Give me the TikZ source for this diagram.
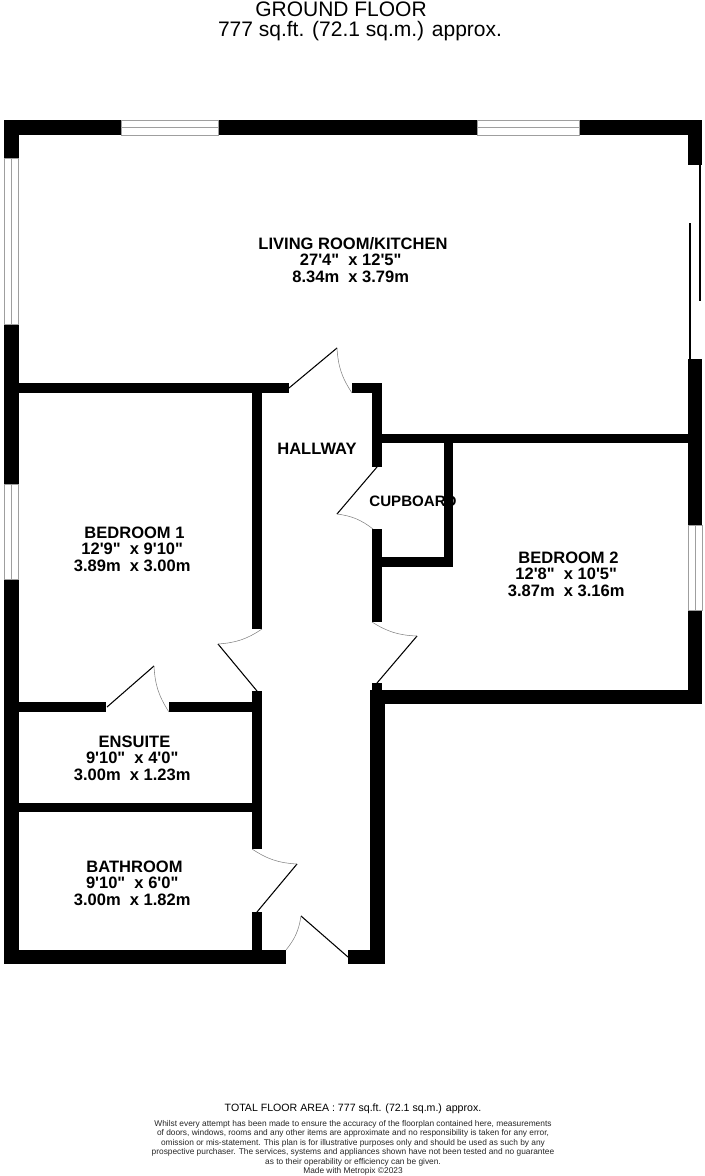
\documentclass[tikz,border=0pt]{standalone}
\usepackage{fontspec}
\usepackage{tikz}
\newfontfamily\planfont{Liberation Sans}
\newcommand{\createwall}[4]{\fill ( #1 , #2 ) rectangle ( #3 , #4 );}
\newcommand{\createwin}[4]{\fill[white] ( #1 , #2 ) rectangle ( #3 , #4 ); \draw[winline] ( #1 , #2 ) rectangle ( #3 , #4 ); \draw[winline] ($( #1 , #2 )!0.5!( #1 , #4 )$) -- ($( #3 , #2 )!0.5!( #3 , #4 )$);}
\newcommand{\createwiny}[4]{\fill[white] ( #1 , #2 ) rectangle ( #3 , #4 ); \draw[winline] ( #1 , #2 ) rectangle ( #3 , #4 ); \draw[winline] ($( #1 , #2 )!0.5!( #3 , #2 )$) -- ($( #1 , #4 )!0.5!( #3 , #4 )$);}
\newcommand{\createdoor}[7]{\draw[doorleaf] ( #1 , #2 ) -- ( #3 , #4 ); \draw[doorarc] ( #3 , #4 ) to[bend left=#7] ( #5 , #6 );}
\newcommand{\roomdims}[4]{#1\ \ x #2\ \mbox{}\\#3\ \ x #4\ \mbox{}}
\usetikzlibrary{calc}
\tikzset{
    winline/.style={gray!75,line width=0.55pt},
    doorleaf/.style={black,line width=0.6pt},
    doorarc/.style={gray,line width=0.3pt},
    roomlabel/.style={font=\planfont\bfseries\fontsize{9.4}{9.4}\selectfont,align=center,inner sep=0pt},
    titlelabel/.style={font=\planfont\fontsize{11.95}{12.4}\selectfont,inner sep=0pt},
    footlabel/.style={font=\planfont\fontsize{6.03}{6.2}\selectfont,inner sep=0pt},
    notelabel/.style={font=\planfont\fontsize{4.75}{5.4}\selectfont,align=center,text=black!85,inner sep=0pt}
}

\begin{document}
\begin{tikzpicture}[x=0.02cm,y=-0.02cm]
        \useasboundingbox (0,0) rectangle (704,1176);
        %walls
        \foreach \xa/\ya/\xb/\yb in {4/120/702/135, 4/120/19/964, 688/120/702/165, 688/359/702/704,
            19/383/289/393, 252/393/262/629, 352/383/382/393, 372/383/382/467, 382/434/688/443,
            444/443/453/567, 382/557/453/567, 372/529/382/622, 372/683/382/690, 370/690/702/704,
            370/690/385/964, 19/702/106/712, 169/702/252/712, 19/803/252/812, 252/691/262/849,
            252/912/262/950, 4/950/286/964, 348/950/385/964} {
        \createwall{\xa}{\ya}{\xb}{\yb}}
        %windows
        \createwin{121}{120.5}{218}{135}
        \createwin{477}{120.5}{579}{135}
        \createwiny{4.5}{158}{18.5}{324}
        \createwiny{4.5}{484}{18.5}{579}
        \createwiny{688}{525}{702}{610}
        %sliding door
        \draw[doorleaf,line width=0.7pt] (700,165) -- (700,301);
        \draw[doorleaf,line width=0.7pt] (690,223) -- (690,359);
        %doors
        \createdoor{289}{388}{337}{348}{352}{393}{-15}
        \createdoor{377}{467}{337}{514}{373}{529}{15}
        \createdoor{377}{683}{417}{636}{372}{622}{15}
        \createdoor{257}{691}{218}{644}{262}{629}{-15}
        \createdoor{107}{707}{154}{666}{169}{712}{-15}
        \createdoor{257}{912}{297}{864}{252}{849}{15}
        \createdoor{348}{957}{301}{916}{286}{950}{15}
        %labels
        \node[titlelabel] (groundtitle) at (341,9) {GROUND FLOOR};
        \node[titlelabel] (areatitle) at (360,31) {777 sq.ft. (72.1 sq.m.) approx.};
        \node[roomlabel] (living) at (353,260) {LIVING ROOM/KITCHEN\\\roomdims{27'4"}{12'5"}{8.34m}{3.79m}};
        \node[roomlabel] (hallway) at (317,449) {HALLWAY};
        \node[roomlabel,font=\planfont\bfseries\fontsize{8.6}{9.4}\selectfont] (cupboard) at (413,501) {CUPBOARD};
        \node[roomlabel] (bedone) at (134.5,549) {BEDROOM 1\\\roomdims{12'9"}{9'10"}{3.89m}{3.00m}};
        \node[roomlabel] (bedtwo) at (568.5,574) {BEDROOM 2\\\roomdims{12'8"}{10'5"}{3.87m}{3.16m}};
        \node[roomlabel] (ensuite) at (134.5,758) {ENSUITE\\\roomdims{9'10"}{4'0"}{3.00m}{1.23m}};
        \node[roomlabel] (bathroom) at (134.5,883) {BATHROOM\\\roomdims{9'10"}{6'0"}{3.00m}{1.82m}};
        \node[footlabel] (totalarea) at (353,1109) {TOTAL FLOOR AREA : 777 sq.ft. (72.1 sq.m.) approx.};
        \node[notelabel] (disclaimer) at (353,1148) {Whilst every attempt has been made to ensure the accuracy of the floorplan contained here, measurements\\of doors, windows, rooms and any other items are approximate and no responsibility is taken for any error,\\omission or mis-statement. This plan is for illustrative purposes only and should be used as such by any\\prospective purchaser. The services, systems and appliances shown have not been tested and no guarantee\\as to their operability or efficiency can be given.\\Made with Metropix ©2023};
    \end{tikzpicture}
\end{document}
